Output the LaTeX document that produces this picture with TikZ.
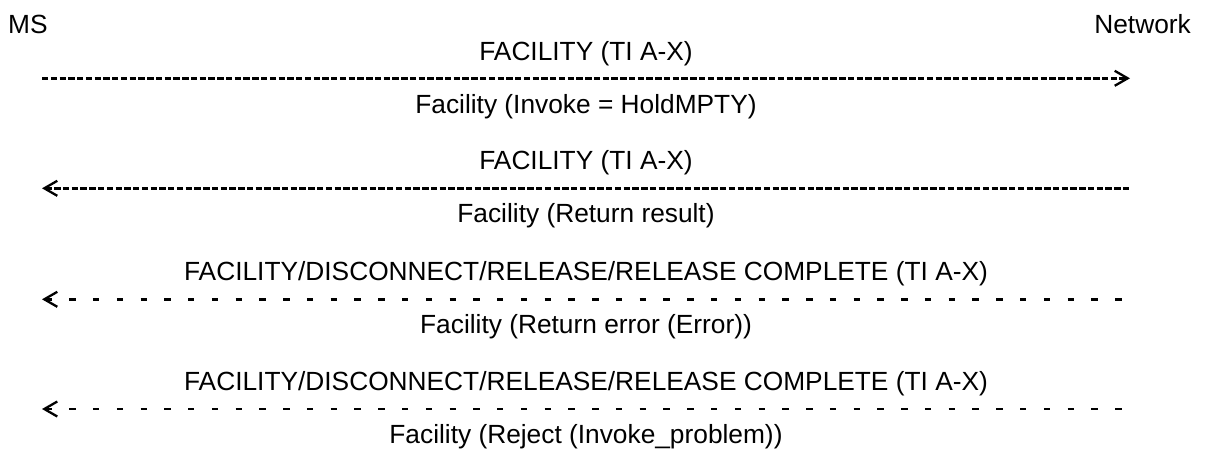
\documentclass[tikz,border=0pt]{standalone}
\usepackage{fontspec}
\setmainfont{Liberation Sans}
\usetikzlibrary{arrows.meta}
\begin{document}
\begin{tikzpicture}[x=1pt,y=-1pt,
  lbl/.style={anchor=base,inner sep=0pt,font=\fontsize{26.3}{30}\selectfont},
  dense/.style={line width=2.7pt,dash pattern=on 6.4pt off 2.36pt},
  sparse/.style={line width=2.7pt,dash pattern=on 6.4pt off 17.37pt},
  tipR/.style={-{Straight Barb[length=13pt,width=15pt,line width=2.3pt]}},
  tipL/.style={{Straight Barb[length=13pt,width=15pt,line width=2.3pt]}-}
]
\useasboundingbox (0,0) rectangle (1209,448);

\node[lbl,anchor=base west] (ms) at (8,33.3) {MS};
\node[lbl,anchor=base east] (net) at (1191,33.3) {Network};

\node[lbl] (m1) at (586,60.7) {FACILITY (TI A-X)};
\node[lbl] (c1) at (586,113.3) {Facility (Invoke = HoldMPTY)};
\node[lbl] (m2) at (586,169.3) {FACILITY (TI A-X)};
\node[lbl] (c2) at (586,222.7) {Facility (Return result)};
\node[lbl] (m3) at (586,280.7) {FACILITY/DISCONNECT/RELEASE/RELEASE COMPLETE (TI A-X)};
\node[lbl] (c3) at (586,333.3) {Facility (Return error (Error))};
\node[lbl] (m4) at (586,390.7) {FACILITY/DISCONNECT/RELEASE/RELEASE COMPLETE (TI A-X)};
\node[lbl] (c4) at (586,443.3) {Facility (Reject (Invoke\_problem))};

\coordinate (a1s) at (42,78.3);   \coordinate (a1e) at (1130,78.3);
\coordinate (a2s) at (42,188.3);  \coordinate (a2e) at (1130,188.3);
\coordinate (a3s) at (42,299.3);  \coordinate (a3e) at (1132,299.3);
\coordinate (a4s) at (42,409);    \coordinate (a4e) at (1132,409);

\draw[dense,tipR] (a1s) -- (a1e);
\draw[dense,tipL] (a2s) -- (a2e);
\draw[sparse,tipL] (a3s) -- (a3e);
\draw[sparse,tipL] (a4s) -- (a4e);
\end{tikzpicture}
\end{document}
